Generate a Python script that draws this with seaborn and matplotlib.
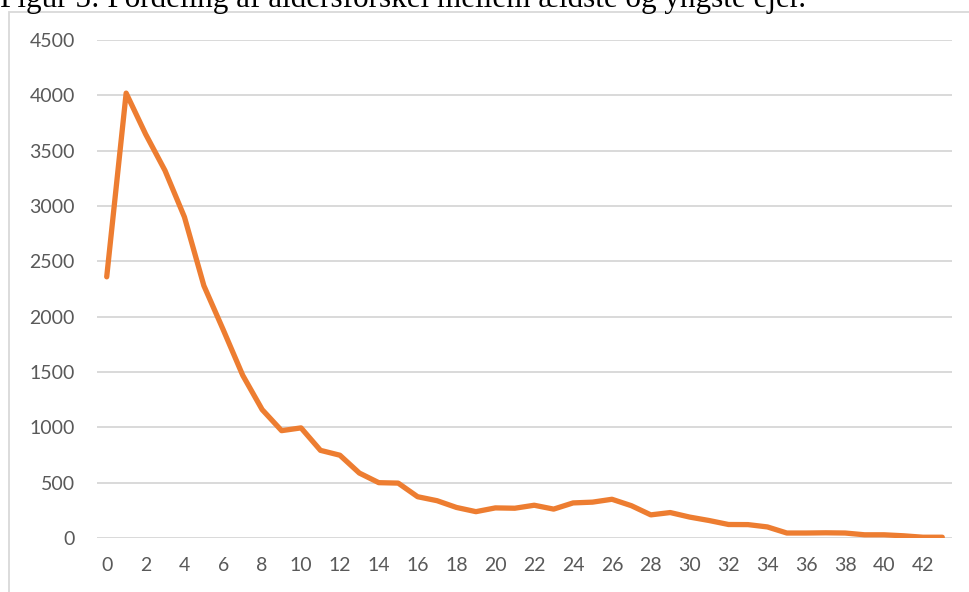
import numpy as np
import pandas as pd
import seaborn as sns
import matplotlib.pyplot as plt
from matplotlib.patches import Rectangle

# data: age difference (years) and number of cases
ages = list(range(44))
counts = [2360, 4020, 3650, 3320, 2900, 2280, 1880, 1470, 1160, 970,
          995, 792, 748, 587, 500, 496, 373, 337, 276, 238,
          272, 269, 296, 261, 317, 324, 350, 292, 209, 230,
          189, 158, 122, 121, 100, 45, 45, 47, 45, 29,
          29, 20, 7, 7]
y_ticks = [0, 500, 1000, 1500, 2000, 2500, 3000, 3500, 4000, 4500]
title = "Figur 5: Fordeling af aldersforskel mellem ældste og yngste ejer."

df = pd.DataFrame({"alder": ages, "antal": counts})

sns.set_style("white")
plt.rcParams['font.family'] = ['Lato', 'DejaVu Sans']

fig = plt.figure(figsize=(9.7, 5.92), dpi=100)
ax = fig.add_axes([97 / 970, 1 - 538 / 592, (952 - 97) / 970, (538 - 40) / 592])

sns.lineplot(data=df, x="alder", y="antal", ax=ax, color="#ED7D31",
             linewidth=3.8, solid_joinstyle="round", solid_capstyle="round")

ax.set_xlim(-0.5, 43.5)
ax.set_ylim(0, 4500)
ax.set_xticks(ages[::2])
ax.set_yticks(y_ticks)
ax.set_xlabel("")
ax.set_ylabel("")
ax.grid(axis="y", color="#D9D9D9", linewidth=1.4)
ax.set_axisbelow(True)
for s in ax.spines.values():
    s.set_visible(False)
ax.tick_params(axis="both", length=0, labelsize=14, labelcolor="#595959")
ax.tick_params(axis="y", pad=16)
ax.tick_params(axis="x", pad=14)

# chart frame (cut by the image edges)
fig.add_artist(Rectangle((9 / 970, -1), 2, 1 + (1 - 11.5 / 592), transform=fig.transFigure,
                         fill=False, edgecolor="#D9D9D9", linewidth=1.3))

# caption, cut at the top of the picture as in the original
fig.text(0.0, 1 - 7 / 592, title, family="Liberation Serif", fontsize=22.4,
         color="black", ha="left", va="baseline")

fig.savefig("out.png", dpi=100)
